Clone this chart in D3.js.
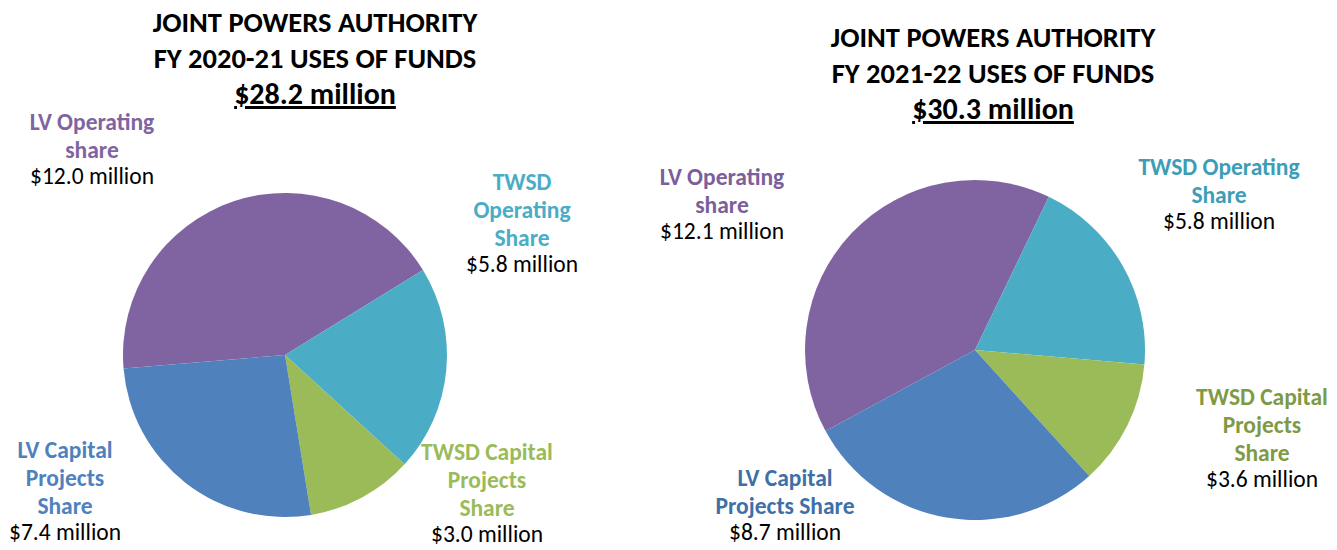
<!DOCTYPE html>
<html>
<head>
<meta charset="utf-8">
<script src="https://cdn.jsdelivr.net/npm/d3@7"></script>
<style>
  body { margin: 0; background: #fff; }
  svg { font-family: Carlito, Lato, "Open Sans", sans-serif; }
</style>
</head>
<body>
<svg id="chart" width="1337" height="550"></svg>
<script>
// data
var categories = ["LV Operating share", "TWSD Operating Share", "TWSD Capital Projects Share", "LV Capital Projects Share"];
var colors = ["#8064A2", "#4BACC6", "#9BBB59", "#4F81BD"];
var values2021 = [12.0, 5.8, 3.0, 7.4];
var values2122 = [12.1, 5.8, 3.6, 8.7];
var titles2021 = ["JOINT POWERS AUTHORITY", "FY 2020-21 USES OF FUNDS", "$28.2 million"];
var titles2122 = ["JOINT POWERS AUTHORITY", "FY 2021-22 USES OF FUNDS", "$30.3 million"];
var labels2021 = [["LV Operating", "share"], ["TWSD", "Operating", "Share"], ["TWSD Capital", "Projects", "Share"], ["LV Capital", "Projects", "Share"]];
var labels2122 = [["LV Operating", "share"], ["TWSD Operating", "Share"], ["TWSD Capital", "Projects", "Share"], ["LV Capital", "Projects Share"]];

const svg = d3.select("#chart");

function drawPie(opt) {
	const data = opt.values.map((v, i) => ({name: categories[i], value: v, i: i}));
	// purple slice starts right where the LV Capital slice ends
	const start = opt.blueEnd - 2 * Math.PI;
	const pie = d3.pie()
		.value(d => d.value)
		.sort(null)
		.startAngle(start)
		.endAngle(start + 2 * Math.PI);
	const arc = d3.arc().innerRadius(0).outerRadius(opt.r);

	const g = svg.append("g").attr("transform", `translate(${opt.cx},${opt.cy})`);
	g.selectAll("path")
		.data(pie(data))
		.enter().append("path")
		.attr("d", arc)
		.attr("fill", d => colors[d.data.i]);

	// title
	const t = svg.append("text")
		.attr("text-anchor", "middle")
		.attr("font-weight", "bold")
		.attr("fill", "#000");
	opt.titles.forEach((line, k) => {
		t.append("tspan")
			.attr("x", opt.tx)
			.attr("y", opt.ty + k * 36)
			.attr("text-decoration", k == 2 ? "underline" : null)
			.attr("font-size", k == 2 ? 30 : 28.5)
			.text(line);
	});

	// labels
	opt.labels.forEach((lines, i) => {
		const pos = opt.labelPos[i];
		const txt = svg.append("text")
			.attr("text-anchor", "middle")
			.attr("font-size", 23.5);
		lines.forEach((line, k) => {
			txt.append("tspan")
				.attr("x", pos[0])
				.attr("y", pos[1] + k * 28)
				.attr("font-weight", "bold")
				.attr("fill", opt.labelColors[i])
				.text(line);
		});
		txt.append("tspan")
			.attr("x", pos[0])
			.attr("y", pos[1] + lines.length * 28 - (opt.valueGap || 0))
			.attr("fill", "#000")
			.text("$" + opt.values[i].toFixed(1) + " million");
	});
}

drawPie({
	cx: 285, cy: 355, r: 162,
	blueEnd: (265.2 / 180) * Math.PI,
	values: values2021,
	titles: titles2021, tx: 315, ty: 32,
	labels: labels2021,
	labelColors: ["#8064A2", "#4BACC6", "#9BBB59", "#4F81BD"],
	labelPos: [[92, 130], [522, 190], [487, 460], [65, 458]],
	valueGap: 2
});

drawPie({
	cx: 975, cy: 350, r: 170,
	blueEnd: (241.5 / 180) * Math.PI,
	values: values2122,
	titles: titles2122, tx: 993, ty: 47,
	labels: labels2122,
	labelColors: ["#7A5F9C", "#3E9DB6", "#7F9A45", "#3F6FA8"],
	labelPos: [[722, 185], [1219, 175], [1262, 405], [785, 486]],
	valueGap: 2
});
</script>
</body>
</html>
